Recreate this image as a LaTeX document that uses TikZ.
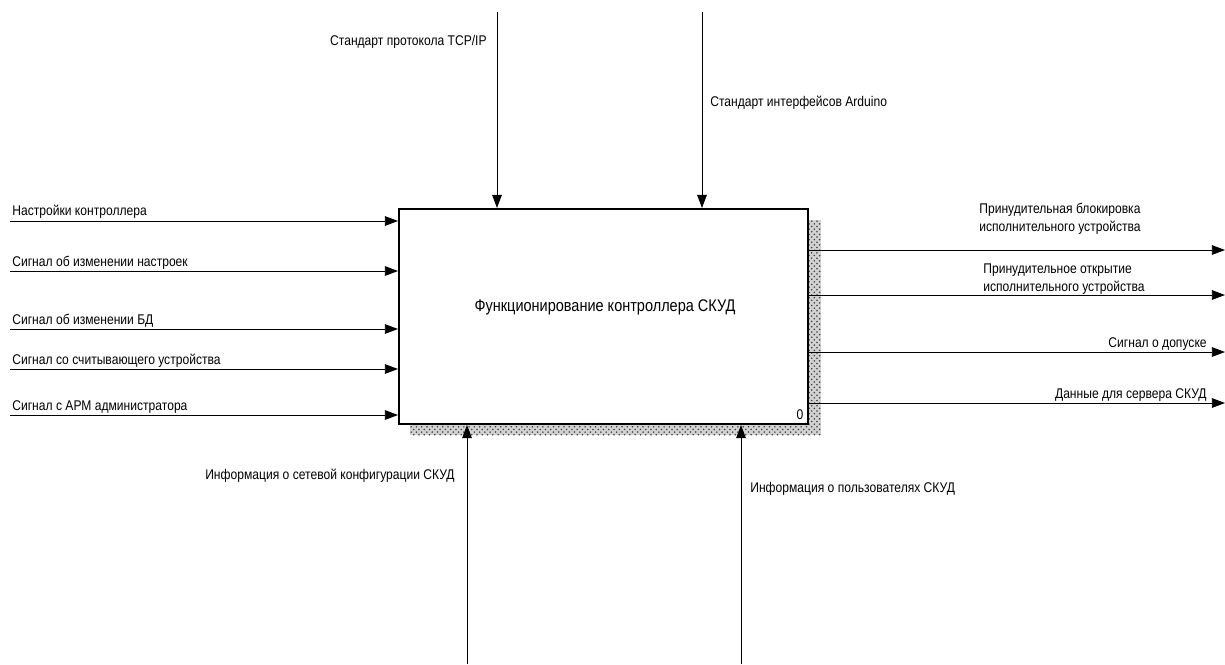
\documentclass[tikz,border=0pt]{standalone}
\usepackage{fontspec}
\setmainfont{Liberation Sans}[FakeStretch=0.86]
\usetikzlibrary{arrows.meta,patterns}
\begin{document}
\begin{tikzpicture}[x=0.02cm,y=-0.02cm,
  arr/.style={-{Triangle[length=7.5pt,width=5.5pt]}, line width=0.5pt},
  lbl/.style={font=\fontsize{8}{10}\selectfont, inner sep=0pt}]
  \useasboundingbox (0,0) rectangle (1225,664);
  % shadow and box
  \fill[gray!35] (410,220) rectangle (821,435);
  \fill[pattern=crosshatch dots, pattern color=black!75] (410,220) rectangle (821,435);
  \node (func) [draw, fill=white, line width=1.2pt, minimum width=8.18cm, minimum height=4.3cm, inner sep=0pt] at (603.5,316.5) {};
  \node (functitle) [lbl, font=\fontsize{9.6}{11}\selectfont] at (605,307) {Функционирование контроллера СКУД};
  \node (funcnum) [lbl, anchor=south east] at ([xshift=-3pt,yshift=3pt]func.south east) {0};

  % inputs
  \coordinate (in1) at (10,221);
  \coordinate (in2) at (10,271);
  \coordinate (in3) at (10,329);
  \coordinate (in4) at (10,369);
  \coordinate (in5) at (10,415);
  \draw[arr] (in1) -- (in1 -| func.west);
  \draw[arr] (in2) -- (in2 -| func.west);
  \draw[arr] (in3) -- (in3 -| func.west);
  \draw[arr] (in4) -- (in4 -| func.west);
  \draw[arr] (in5) -- (in5 -| func.west);
  \node (inlbl1) [lbl, anchor=base west] at (12,215) {Настройки контроллера};
  \node (inlbl2) [lbl, anchor=base west] at (12,266) {Сигнал об изменении настроек};
  \node (inlbl3) [lbl, anchor=base west] at (12,324) {Сигнал об изменении БД};
  \node (inlbl4) [lbl, anchor=base west] at (12,364) {Сигнал со считывающего устройства};
  \node (inlbl5) [lbl, anchor=base west] at (12,410) {Сигнал с АРМ администратора};

  % controls
  \coordinate (ctl1) at (497,12);
  \coordinate (ctl2) at (702,12);
  \draw[arr] (ctl1) -- (ctl1 |- func.north);
  \draw[arr] (ctl2) -- (ctl2 |- func.north);
  \node (ctllbl1) [lbl, anchor=base east] at (487,45) {Стандарт протокола TCP/IP};
  \node (ctllbl2) [lbl, anchor=base west] at (710,106) {Стандарт интерфейсов Arduino};

  % mechanisms
  \coordinate (mech1) at (467,664);
  \coordinate (mech2) at (741,664);
  \draw[arr] (mech1) -- (mech1 |- func.south);
  \draw[arr] (mech2) -- (mech2 |- func.south);
  \node (mechlbl1) [lbl, anchor=base east] at (455,479) {Информация о сетевой конфигурации СКУД};
  \node (mechlbl2) [lbl, anchor=base west] at (750,492) {Информация о пользователях СКУД};

  % outputs
  \coordinate (out1) at (1225,250);
  \coordinate (out2) at (1225,295);
  \coordinate (out3) at (1225,352);
  \coordinate (out4) at (1225,403);
  \draw[arr] (out1 -| func.east) -- (out1);
  \draw[arr] (out2 -| func.east) -- (out2);
  \draw[arr] (out3 -| func.east) -- (out3);
  \draw[arr] (out4 -| func.east) -- (out4);
  \node (outlbl1) [lbl, anchor=base west, align=left] at (979,231) {Принудительная блокировка\\исполнительного устройства};
  \node (outlbl2) [lbl, anchor=base west, align=left] at (983,291) {Принудительное открытие\\исполнительного устройства};
  \node (outlbl3) [lbl, anchor=base east] at (1207,347) {Сигнал о допуске};
  \node (outlbl4) [lbl, anchor=base east] at (1207,398) {Данные для сервера СКУД};
\end{tikzpicture}
\end{document}
